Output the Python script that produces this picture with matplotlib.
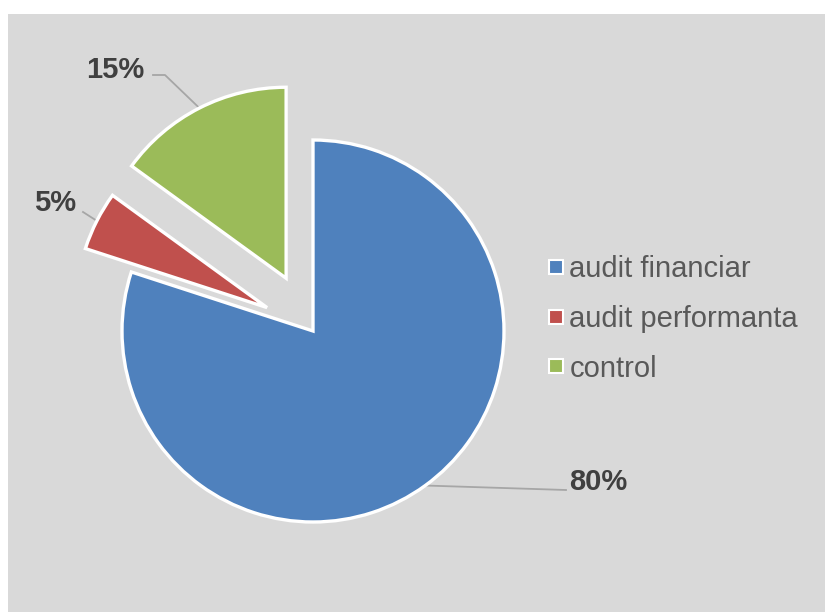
import numpy as np
import matplotlib
matplotlib.use("Agg")
import matplotlib.pyplot as plt
from matplotlib.patches import Rectangle
from matplotlib.lines import Line2D

plt.rcParams["font.family"] = ["Liberation Sans", "DejaVu Sans"]

categories = ["audit financiar", "audit performanta", "control"]
shares = [80, 5, 15]
pct_labels = ["80%", "5%", "15%"]
colors = ["#4f81bd", "#c0504d", "#9bbb59"]
explode_frac = [0, 0.27, 0.31]

W, H = 825, 612
fig = plt.figure(figsize=(W / 100, H / 100), dpi=100)
fig.patch.set_facecolor("white")

# axes in pixel units, y up
ax = fig.add_axes([0, 0, 1, 1])
ax.axis("off")

cx, cy, R = 313, H - 331, 191
wedges, _ = ax.pie(shares, colors=colors, explode=[e * R for e in explode_frac],
                   startangle=90, counterclock=False, center=(cx, cy), radius=R,
                   wedgeprops=dict(edgecolor="white", linewidth=2.4))
ax.set_xlim(0, W)
ax.set_ylim(0, H)
ax.set_aspect("equal")
ax.add_patch(Rectangle((8, 0), W - 8, H - 14, facecolor="#d9d9d9",
                       edgecolor="none", zorder=0))

# label anchors (pixel layout), leader bend points
label_pos = [(598, H - 482), (55, H - 203), (115, H - 70)]
leader_end = [(566, H - 490), (83, H - 212), (165, H - 75)]
leader_tail = [None, None, (153, H - 75)]

for w, txt, lp, le, lt in zip(wedges, pct_labels, label_pos, leader_end, leader_tail):
    mid = np.deg2rad((w.theta1 + w.theta2) / 2)
    x0 = w.center[0] + w.r * np.cos(mid)
    y0 = w.center[1] + w.r * np.sin(mid)
    xs, ys = [x0, le[0]], [y0, le[1]]
    if lt is not None:
        xs.append(lt[0])
        ys.append(lt[1])
    ax.plot(xs, ys, color="#a6a6a6", lw=1.3, zorder=0.5)
    ax.text(lp[0], lp[1], txt, ha="center", va="center", fontsize=21,
            fontweight="bold", color="#404040")

handles = [Line2D([], [], marker="s", linestyle="none", markersize=10,
                  markerfacecolor=c, markeredgecolor="white", markeredgewidth=1.5)
           for c in colors]
leg = ax.legend(handles, categories, loc="center left",
                bbox_to_anchor=(533 / W, (H - 319) / H), frameon=False,
                fontsize=21, labelcolor="#595959", handlelength=0.6,
                handletextpad=0.15, labelspacing=0.74, borderpad=0)

fig.savefig("out.png", dpi=100, facecolor="white")
